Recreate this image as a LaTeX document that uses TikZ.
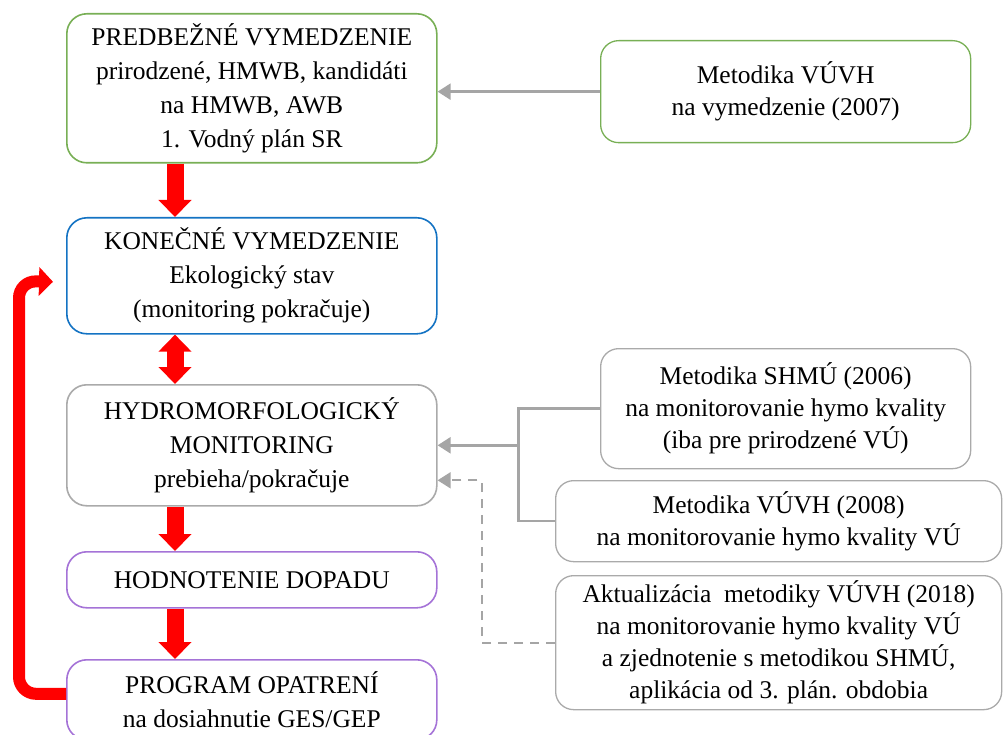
\documentclass[tikz,border=0pt]{standalone}
\usepackage{fontspec}
\setmainfont{Liberation Serif}
\usetikzlibrary{arrows.meta}
\definecolor{bgreen}{RGB}{120,175,85}
\definecolor{bblue}{RGB}{20,115,195}
\definecolor{bgray}{RGB}{170,170,170}
\definecolor{bpurple}{RGB}{165,115,215}
\definecolor{cgray}{RGB}{165,165,165}
\definecolor{bred}{RGB}{255,0,0}
\begin{document}
\begin{tikzpicture}[x=1pt,y=-1pt,
  box/.style={draw, rounded corners=20pt, line width=1.6pt, anchor=north west,
    inner sep=0pt, align=center, font=\fontsize{25.5}{34}\selectfont},
  rbox/.style={box, rounded corners=18pt, line width=1.3pt, font=\fontsize{25.5}{32}\selectfont},
  redarrow/.style={draw=bred, line width=17pt, -{Triangle[width=32pt,length=17pt]}},
  reddbl/.style={draw=bred, line width=17pt, {Triangle[width=32pt,length=17pt]}-{Triangle[width=32pt,length=17pt]}},
  redloop/.style={draw=bred, line width=12pt, rounded corners=17pt, -{Triangle[width=28pt,length=14pt]}},
  conn/.style={draw=cgray, line width=2.4pt},
  connarrow/.style={conn, -{Triangle[width=16pt,length=13pt]}},
  dconn/.style={draw=cgray, line width=1.8pt, dash pattern=on 9pt off 7pt, -{Triangle[width=16pt,length=13pt]}}
]
\useasboundingbox (0,0) rectangle (1003,735);

% left column
\node[box, draw=bgreen, minimum width=370, minimum height=149] (b1) at (66,13)
  {PREDBEŽNÉ VYMEDZENIE\\prirodzené, HMWB, kandidáti\\na HMWB, AWB\\1. Vodný plán SR};
\node[box, draw=bblue, minimum width=370, minimum height=116] (b2) at (66,217)
  {KONEČNÉ VYMEDZENIE\\Ekologický stav\\(monitoring pokračuje)};
\node[box, draw=bgray, minimum width=370, minimum height=121] (b3) at (66,384)
  {HYDROMORFOLOGICKÝ\\MONITORING\\prebieha/pokračuje};
\node[box, draw=bpurple, minimum width=370, minimum height=56] (b4) at (66,551)
  {HODNOTENIE DOPADU};
\node[box, draw=bpurple, minimum width=370, minimum height=80] (b5) at (66,659)
  {PROGRAM OPATRENÍ\\na dosiahnutie GES/GEP};

% right column
\node[rbox, draw=bgreen, minimum width=370, minimum height=102] (r1) at (600,40)
  {Metodika VÚVH\\na vymedzenie (2007)};
\node[rbox, draw=bgray, minimum width=370, minimum height=120] (r2) at (600,348)
  {Metodika SHMÚ (2006)\\na monitorovanie hymo kvality\\(iba pre prirodzené VÚ)};
\node[rbox, draw=bgray, minimum width=446, minimum height=81] (r3) at (555,480)
  {Metodika VÚVH (2008)\\na monitorovanie hymo kvality VÚ};
\node[rbox, draw=bgray, minimum width=446, minimum height=134] (r4) at (555,575)
  {Aktualizácia\ \ metodiky VÚVH (2018)\\na monitorovanie hymo kvality VÚ\\a zjednotenie s metodikou SHMÚ,\\aplikácia od 3. plán. obdobia};

% red flow arrows
\draw[redarrow] ([xshift=109pt]b1.south west) -- ([xshift=109pt]b2.north west);
\draw[reddbl] ([xshift=109pt]b2.south west) -- ([xshift=109pt]b3.north west);
\draw[redarrow] ([xshift=109pt]b3.south west) -- ([xshift=109pt]b4.north west);
\draw[redarrow] ([xshift=109pt]b4.south west) -- ([xshift=109pt]b5.north west);

% red feedback loop
\coordinate (lc) at (19,281);
\coordinate (lt) at ([xshift=-13pt,yshift=-6pt]b2.west);
\draw[redloop] ([yshift=6pt]b5.west) -| (lc) -- (lt);

% gray connectors
\draw[connarrow] (r1.west) -- (r1.west -| b1.east);
\coordinate (j) at ([xshift=81pt]b3.east);
\draw[conn] (r2.west) -| (j) |- (r3.west);
\draw[connarrow] (j) -- (b3.east);
\coordinate (d) at ([xshift=44pt,yshift=-35pt]b3.east);
\draw[dconn] (r4.west) -| (d) -- (d -| b3.east);
\end{tikzpicture}
\end{document}
